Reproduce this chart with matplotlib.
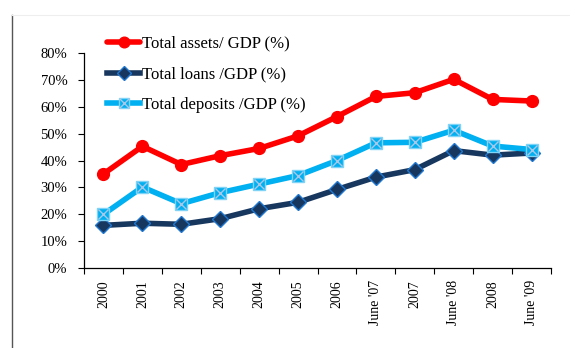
import matplotlib
matplotlib.use("Agg")
import matplotlib.pyplot as plt
from matplotlib.lines import Line2D
from matplotlib.ticker import FixedLocator, PercentFormatter

plt.rcParams['font.family'] = ['Liberation Serif', 'DejaVu Serif']

periods = ["2000", "2001", "2002", "2003", "2004", "2005", "2006",
           "June '07", "2007", "June '08", "2008", "June '09"]
assets = [35.0, 45.3, 38.5, 41.8, 44.5, 49.2, 56.4, 63.9, 65.3, 70.3, 62.8, 62.2]
loans = [15.8, 16.6, 16.2, 18.3, 22.0, 24.4, 29.2, 33.8, 36.6, 43.7, 42.0, 42.8]
deposits = [19.9, 30.1, 23.9, 28.0, 31.2, 34.4, 40.0, 46.6, 46.8, 51.3, 45.4, 44.1]

fig = plt.figure(figsize=(5.7, 3.48), dpi=100)
ax = fig.add_axes([0.1474, 0.2307, 0.8193, 0.6161])

x = list(range(len(periods)))

h_assets, = ax.plot(x, assets, color='#FF0000', lw=4.0, marker='o', ms=8.5,
                    mfc='#FF0000', mec='#FF0000', solid_capstyle='round')
h_loans, = ax.plot(x, loans, color='#17375E', lw=4.0, marker='D', ms=8,
                   mfc='#17375E', mec='#1F77D0', mew=1.0)
h_dep, = ax.plot(x, deposits, color='#00B0F0', lw=4.0, marker='s', ms=8.5,
                 mfc='#00B0F0', mec='#7FD3F7', mew=1.0)
h_dep_x, = ax.plot(x, deposits, ls='none', marker='x', ms=7.5,
                   mec='#A9C8E8', mew=1.0)

ax.set_xlim(-0.5, len(periods) - 0.5)
ax.set_ylim(0, 80)
ax.yaxis.set_major_locator(FixedLocator(range(0, 81, 10)))
ax.yaxis.set_major_formatter(PercentFormatter(decimals=0))

# category boundaries carry the tick marks, labels sit in between
ax.xaxis.set_major_locator(FixedLocator([i - 0.5 for i in range(len(periods) + 1)]))
ax.xaxis.set_minor_locator(FixedLocator(x))
ax.set_xticklabels([''] * (len(periods) + 1))
ax.set_xticklabels(periods, minor=True, rotation=90, fontsize=10)
ax.tick_params(axis='x', which='minor', length=0, pad=9)
ax.tick_params(axis='x', which='major', direction='out', length=4, width=0.8)
ax.tick_params(axis='y', direction='out', length=4, width=0.8, labelsize=10.5, pad=8)

for side in ('top', 'right'):
    ax.spines[side].set_visible(False)
for side in ('left', 'bottom'):
    ax.spines[side].set_linewidth(0.9)

fig.legend([h_assets, h_loans, (h_dep, h_dep_x)],
           ['Total assets/ GDP (%)', 'Total loans /GDP (%)', 'Total deposits /GDP (%)'],
           loc='upper left', bbox_to_anchor=(0.1877, 0.897), frameon=False,
           borderpad=0, borderaxespad=0,
           fontsize=12, labelspacing=0.88, handlelength=2.0, handletextpad=0.12,
           markerscale=0.9)

# page frame around the chart
fig.add_artist(Line2D([0.021, 0.021], [0.0, 0.957], color='#555555', lw=1.0))
fig.add_artist(Line2D([0.021, 1.0], [0.957, 0.957], color='#EEEEEE', lw=0.8))

fig.savefig('out.png', dpi=100)
